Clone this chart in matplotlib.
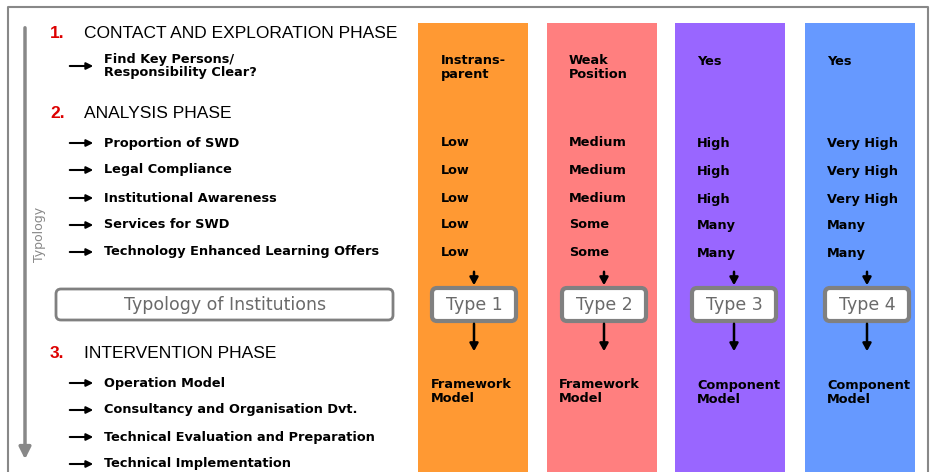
import matplotlib.pyplot as plt
from matplotlib.patches import Rectangle, FancyBboxPatch

# --- content ---
phases = ["CONTACT AND EXPLORATION PHASE", "ANALYSIS PHASE", "INTERVENTION PHASE"]
phase1_items = ["Find Key Persons/\nResponsibility Clear?"]
phase2_items = ["Proportion of SWD", "Legal Compliance", "Institutional Awareness",
                "Services for SWD", "Technology Enhanced Learning Offers"]
phase3_items = ["Operation Model", "Consultancy and Organisation Dvt.",
                "Technical Evaluation and Preparation", "Technical Implementation"]

types = ["Type 1", "Type 2", "Type 3", "Type 4"]
col_colors = ["#ff9933", "#ff7f7f", "#9966ff", "#6699ff"]
key_persons = ["Instrans-\nparent", "Weak\nPosition", "Yes", "Yes"]
proportion = ["Low", "Medium", "High", "Very High"]
legal = ["Low", "Medium", "High", "Very High"]
awareness = ["Low", "Medium", "High", "Very High"]
services = ["Low", "Some", "Many", "Many"]
tel_offers = ["Low", "Some", "Many", "Many"]
op_model = ["Framework\nModel", "Framework\nModel", "Component\nModel", "Component\nModel"]

# --- layout (pixel coords) ---
W, H = 931, 472
col_left = [418, 547, 675, 805]
col_w = 110
phase_y = [33, 113, 354]
p2_y = [143, 170, 198, 225, 252]
p3_y = [383, 410, 437, 464]
head_font = "Liberation Sans"
body_font = "DejaVu Sans"
fs_body = 9.3

fig = plt.figure(figsize=(W / 100, H / 100), dpi=100)
ax = fig.add_axes([0, 0, 1, 1])
ax.set_xlim(0, W)
ax.set_ylim(H, 0)
ax.axis("off")

# outer frame
ax.plot([8, 8, 928, 928], [472, 7, 7, 472], color="#888888", lw=1.5)

# coloured type columns
for x, c in zip(col_left, col_colors):
    ax.add_patch(Rectangle((x, 23), col_w, H - 23, facecolor=c, edgecolor="none"))

# vertical typology arrow
ax.annotate("", xy=(25, 462), xytext=(25, 25),
            arrowprops=dict(arrowstyle="-|>,head_width=0.35,head_length=0.7",
                            color="#888888", lw=2.5))
ax.text(39, 234, "Typology", rotation=90, ha="center", va="center",
        fontsize=9, color="#888888", family=body_font)

# phase headers
for i, (name, y) in enumerate(zip(phases, phase_y)):
    ax.text(50, y, f"{i + 1}.", color="#dd0000", fontsize=12.5, fontweight="bold",
            ha="left", va="center", family=head_font)
    ax.text(84, y, name, color="black", fontsize=12.5, ha="left", va="center",
            family=head_font)


def item(y, label):
    ax.annotate("", xy=(96, y), xytext=(67, y),
                arrowprops=dict(arrowstyle="-|>,head_width=0.2,head_length=0.4",
                                color="black", lw=1.5))
    ax.text(104, y, label, fontsize=fs_body, fontweight="bold", ha="left",
            va="center", family=body_font, linespacing=1.08)


item(66, phase1_items[0])
for y, lab in zip(p2_y, phase2_items):
    item(y, lab)
for y, lab in zip(p3_y, phase3_items):
    item(y, lab)

# column values
rows = [(p2_y[0], proportion), (p2_y[1], legal), (p2_y[2], awareness),
        (p2_y[3], services), (p2_y[4], tel_offers)]
for j, x in enumerate(col_left):
    tx = x + 23 if j == 0 else x + 22
    dy = 1 if j >= 2 else 0
    ax.text(tx, 54 + dy, key_persons[j], fontsize=fs_body, fontweight="bold",
            ha="left", va="top", family=body_font, linespacing=1.08)
    for y, vals in rows:
        ax.text(tx, y + dy, vals[j], fontsize=fs_body, fontweight="bold",
                ha="left", va="center", family=body_font)
    mx = tx - 10 if j < 2 else tx
    ax.text(mx, 378 + dy, op_model[j], fontsize=fs_body, fontweight="bold",
            ha="left", va="top", family=body_font, linespacing=1.08)

# typology of institutions box
ax.add_patch(FancyBboxPatch((56, 289), 337, 31, boxstyle="round,pad=0,rounding_size=5",
                            facecolor="white", edgecolor="#808080", lw=2))
ax.text(225, 304.5, "Typology of Institutions", fontsize=12.5, color="#6a6a6a",
        ha="center", va="center", family=body_font)

# type boxes with arrows
box_left = [432, 562, 692, 825]
box_w = 84
for x, t in zip(box_left, types):
    cx = x + box_w / 2
    ax.annotate("", xy=(cx, 288), xytext=(cx, 269),
                arrowprops=dict(arrowstyle="-|>,head_width=0.25,head_length=0.45",
                                color="black", lw=1.8))
    ax.annotate("", xy=(cx, 354), xytext=(cx, 321),
                arrowprops=dict(arrowstyle="-|>,head_width=0.25,head_length=0.45",
                                color="black", lw=1.8))
    ax.add_patch(FancyBboxPatch((x, 288), box_w, 33, boxstyle="round,pad=0,rounding_size=5",
                                facecolor="white", edgecolor="#808080", lw=3))
    ax.text(cx, 305, t, fontsize=12.5, color="#6a6a6a", ha="center", va="center",
            family=body_font)

fig.savefig("out.png", dpi=100)
